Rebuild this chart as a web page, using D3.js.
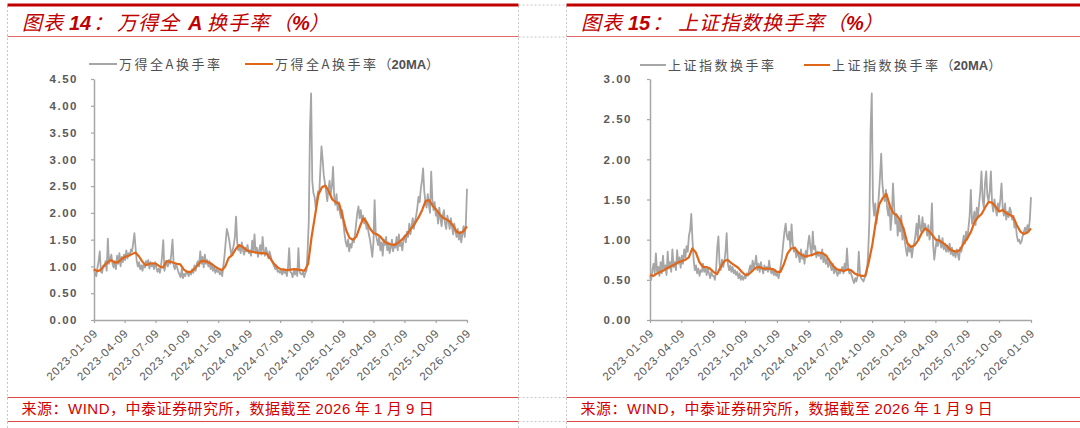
<!DOCTYPE html>
<html>
<head>
<meta charset="utf-8">
<script src="https://cdn.jsdelivr.net/npm/d3@7"></script>
<style>
  body { margin: 0; background: #fff; }
  svg { display: block; }
</style>
</head>
<body>
<div id="chart"></div>
<script>
const WIDTH = 1080, HEIGHT = 428;

// DATA
const START_DATE = "2023-01-09";
const END_DATE = "2026-01-09";
const xTickLabels = ["2023-01-09", "2023-04-09", "2023-07-09", "2023-10-09", "2024-01-09", "2024-04-09", "2024-07-09",
  "2024-10-09", "2025-01-09", "2025-04-09", "2025-07-09", "2025-10-09", "2026-01-09"];
const windYTicks = [0, 0.5, 1, 1.5, 2, 2.5, 3, 3.5, 4, 4.5];
const sseYTicks = [0, 0.5, 1, 1.5, 2, 2.5, 3];

// 万得全A换手率 (evenly spaced through the period)
const windTurnover = [
  0.95,0.86,0.82,0.98,1.10,1.28,0.90,0.88,1.02, 1.00,1.10,0.92,1.52,1.05,1.15,1.22,1.05,0.98,
  1.10,0.95,1.20,1.05,1.25,1.00,1.18,1.08,1.22, 1.12,1.30,1.15,1.25,1.20,1.32,1.28,1.45,1.62,
  1.35,1.10,1.00,1.08,0.95,1.02,0.92,1.05,0.98, 1.10,1.02,1.12,0.96,1.08,1.00,1.05,0.95,1.08,
  0.98,0.90,0.96,0.88,1.00,1.20,1.49,0.92,1.02, 1.08,1.00,1.12,1.05,1.25,1.50,1.02,0.95,1.05,
  0.98,0.90,0.85,0.80,0.95,0.78,0.86,0.82,0.90, 0.88,0.82,0.90,0.85,0.95,0.88,1.02,0.92,1.05,
  1.10,1.00,1.28,1.05,1.18,0.98,1.22,1.05,1.12, 1.00,1.10,0.95,1.05,0.92,0.98,0.88,0.95,0.90,
  0.92,0.85,0.90,0.82,1.00,1.20,1.45,1.70,1.62, 1.50,1.35,1.20,1.30,1.40,1.55,1.93,1.45,1.30,
  1.38,1.25,1.45,1.30,1.22,1.35,1.28,1.40,1.25, 1.30,1.20,1.48,1.28,1.60,1.25,1.35,1.18,1.30,
  1.40,1.22,1.55,1.30,1.20,1.35,1.25,1.15,1.28, 1.20,1.10,1.05,1.00,0.95,1.02,0.90,0.92,0.88,
  0.92,0.85,0.95,0.88,0.90,0.82,0.98,1.34,0.90, 0.88,0.80,0.92,0.85,0.95,0.82,1.34,0.90,0.86,
  0.85,0.90,0.80,0.88,0.92,1.30,1.85,3.55,4.23, 2.60,2.37,2.30,2.10,2.25,2.40,2.35,2.80,3.24,
  3.00,2.70,2.55,2.40,2.22,2.45,2.60,2.35,2.50, 2.86,2.30,2.15,2.35,2.05,2.20,2.00,1.90,2.05,
  1.80,1.60,1.45,1.37,1.50,1.28,1.42,1.35,1.50, 1.45,1.60,1.80,2.00,2.12,1.90,2.05,1.85,1.95,
  1.80,1.90,1.70,1.75,1.60,1.50,1.35,1.18,1.45, 2.24,1.60,1.50,1.40,1.55,1.30,1.45,1.20,1.50,
  1.40,1.55,1.30,1.45,1.25,1.35,1.50,1.28,1.42, 1.35,1.55,1.30,1.60,1.38,1.45,1.30,1.50,1.58,
  1.45,1.65,1.55,1.80,1.60,1.75,1.90,1.70,1.85, 1.95,2.10,2.30,2.20,2.45,2.60,2.83,2.40,2.20,
  2.10,2.35,2.15,2.00,2.77,2.25,2.05,2.20,1.95, 2.00,1.80,2.10,1.90,1.75,1.95,2.05,1.80,1.70,
  1.95,1.85,1.70,1.90,1.75,1.60,1.80,1.65,1.55, 1.70,1.50,1.65,1.45,1.60,1.75,1.55,1.80,2.45
];
// 万得全A换手率（20MA）
const windTurnoverMA = [
  0.95,0.91,0.94, 1.02,1.08,1.12, 1.07,1.08,1.14, 1.18,1.20,1.23, 1.26,1.19,1.09, 1.02,1.05,1.06,
  1.05,1.00,0.98, 1.10,1.09,1.07, 1.05,1.04,0.94, 0.90,0.90,0.95, 1.02,1.10,1.10, 1.08,1.05,1.00,
  0.96,0.93,1.00, 1.16,1.21,1.32, 1.40,1.37,1.31, 1.28,1.27,1.26, 1.25,1.25,1.24, 1.15,1.06,0.99,
  0.95,0.94,0.93, 0.94,0.95,0.94, 0.93,0.92,1.05, 1.55,1.95,2.35, 2.48,2.51,2.40, 2.25,2.20,2.17,
  1.93,1.68,1.53, 1.50,1.56,1.75, 1.90,1.82,1.70, 1.62,1.60,1.55, 1.47,1.43,1.41, 1.40,1.44,1.49,
  1.56,1.63,1.72, 1.81,1.92,2.05, 2.22,2.24,2.14, 2.07,1.98,1.91, 1.88,1.84,1.76, 1.65,1.62,1.66,
  1.75
];

// 上证指数换手率
const sseTurnover = [
  0.55,0.50,0.62,0.70,0.58,0.83,0.60,0.66,0.55, 0.72,0.58,0.80,0.62,0.68,0.56,0.85,0.64,0.72,
  0.60,0.88,0.66,0.72,0.62,0.87,0.70,0.78,0.65, 0.80,0.70,0.88,0.78,0.92,0.85,1.05,1.12,1.32,
  1.00,0.75,0.62,0.68,0.58,0.64,0.55,0.62,0.60, 0.70,0.60,0.66,0.56,0.64,0.58,0.52,0.60,0.55,
  0.55,0.50,0.62,0.90,1.04,0.70,0.62,0.75,0.66, 0.72,0.85,1.08,0.70,0.62,0.68,0.60,0.66,0.58,
  0.62,0.56,0.60,0.52,0.58,0.50,0.55,0.50,0.54, 0.52,0.58,0.55,0.62,0.68,0.60,0.74,0.64,0.70,
  0.80,0.62,0.70,0.60,0.72,0.64,0.58,0.68,0.62, 0.66,0.60,0.74,0.62,0.58,0.64,0.56,0.62,0.55,
  0.58,0.52,0.60,0.70,0.80,0.96,1.10,1.20,1.05, 1.00,1.10,0.90,1.19,0.95,0.85,0.90,0.78,0.85,
  0.80,0.72,0.88,0.76,0.82,0.70,0.86,0.78,0.95, 1.05,0.90,0.80,1.10,0.88,0.92,0.78,0.85,0.80,
  0.82,0.76,0.88,0.72,0.80,0.70,0.76,0.66,0.72, 0.68,0.62,0.70,0.58,0.64,0.60,0.55,0.62,0.58,
  0.62,0.66,0.58,0.70,0.62,0.89,0.64,0.58,0.60, 0.55,0.50,0.46,0.52,0.48,0.55,0.85,0.58,0.52,
  0.50,0.48,0.53,0.55,0.62,0.85,1.25,2.37,2.82, 1.49,1.30,1.45,1.20,1.35,1.55,1.78,2.07,1.70,
  1.55,1.48,1.62,1.40,1.30,1.45,1.12,1.30,1.70, 1.40,1.20,1.32,1.05,1.25,1.10,1.30,1.00,1.15,
  0.98,0.88,0.80,0.95,0.85,0.92,0.78,0.90,0.96, 1.05,1.20,1.00,1.30,1.15,1.10,1.28,1.12,1.20,
  1.15,1.05,1.18,1.00,1.10,1.45,0.95,0.75,0.88, 1.00,0.92,1.05,0.96,0.90,1.02,0.88,0.95,0.85,
  0.92,0.85,0.95,0.82,0.90,0.80,0.86,0.78,0.88, 0.82,0.75,0.90,0.85,0.96,1.05,0.95,1.10,1.00,
  1.15,1.30,1.62,1.20,1.25,1.35,1.18,1.40,1.28, 1.45,1.60,1.85,1.50,1.40,1.70,1.85,1.55,1.48,
  1.60,1.85,1.45,1.35,1.50,1.40,1.30,1.45,1.38, 1.50,1.70,1.40,1.30,1.45,1.25,1.35,1.28,1.40,
  1.35,1.25,1.30,1.15,1.20,1.05,0.98,1.00,0.95, 0.98,1.05,1.10,1.15,1.08,1.18,1.12,1.25,1.53
];
// 上证指数换手率（20MA）
const sseTurnoverMA = [
  0.56,0.55,0.58, 0.60,0.62,0.65, 0.67,0.69,0.72, 0.73,0.75,0.78, 0.89,0.84,0.72, 0.66,0.66,0.64,
  0.60,0.57,0.66, 0.73,0.75,0.71, 0.68,0.65,0.60, 0.56,0.57,0.61, 0.65,0.66,0.64, 0.64,0.64,0.63,
  0.60,0.60,0.70, 0.83,0.89,0.90, 0.84,0.81,0.79, 0.80,0.81,0.83, 0.84,0.83,0.80, 0.73,0.67,0.63,
  0.62,0.61,0.63, 0.62,0.58,0.56, 0.55,0.55,0.72, 0.93,1.22,1.44, 1.52,1.57,1.42, 1.33,1.30,1.24,
  1.12,0.95,0.91, 0.93,0.99,1.08, 1.14,1.11,1.06, 1.00,0.99,0.96, 0.93,0.88,0.86, 0.85,0.88,0.96,
  1.02,1.10,1.22, 1.28,1.32,1.40, 1.47,1.46,1.41, 1.35,1.37,1.33, 1.31,1.28,1.18, 1.10,1.07,1.09,
  1.14
];

const parseDate = d3.timeParse("%Y-%m-%d");
const CJK = "'Noto Sans CJK SC', sans-serif";
const LATIN = "'Liberation Sans', Arial, sans-serif";
const GRAY = "#a6a6a6";
const ORANGE = "#e0661a";

const panels = [
  {
    x0: 7.5, x1: 518.5,
    title: [["图表", 22, "c"], ["14", 69, "l"], ["：", 93, "c"], ["万得全", 117, "c"], ["A", 188, "l"], ["换手率", 207, "c"], ["（", 272, "c"], ["%", 292, "l"], ["）", 309, "c"]],
    left: 94, right: 467, yMax: 4.5, yTicks: windYTicks, pad: 13,
    raw: windTurnover, ma: windTurnoverMA,
    legend: { y: 64, g: [89, 117], gt: 119, o: [245, 273], ot: 275 },
    name: "万得全A换手率"
  },
  {
    x0: 566.5, x1: 1080,
    title: [["图表", 581, "c"], ["15", 628, "l"], ["：", 652, "c"], ["上证指数换手率", 678, "c"], ["（", 826, "c"], ["%", 846, "l"], ["）", 863, "c"]],
    left: 650, right: 1031, yMax: 3, yTicks: sseYTicks, pad: 15,
    raw: sseTurnover, ma: sseTurnoverMA,
    legend: { y: 65, g: [640, 666], gt: 668, o: [804, 830], ot: 832 },
    name: "上证指数换手率"
  }
];

const svg = d3.select("#chart")
  .append("svg")
  .attr("width", WIDTH)
  .attr("height", HEIGHT);

// dotted frame lines between the two panels
const dotted = svg.append("g")
  .attr("stroke", "#c8c8c8")
  .attr("stroke-width", 1)
  .attr("stroke-dasharray", "2,2");
[7.5, 518.5, 566.5].forEach((x) => {
  dotted.append("line").attr("x1", x).attr("x2", x).attr("y1", 6).attr("y2", HEIGHT);
});
[5, 37, 397.5, 421.5].forEach((y) => {
  dotted.append("line").attr("x1", 518.5).attr("x2", 566.5).attr("y1", y).attr("y2", y);
});

// values are listed evenly spaced in time from START_DATE to END_DATE
function toSeries(values) {
  const idx = d3.scaleLinear()
    .domain([0, values.length - 1])
    .range([+parseDate(START_DATE), +parseDate(END_DATE)]);
  return values.map((v, i) => ({ date: new Date(idx(i)), value: v }));
}

panels.forEach((p) => {
  const g = svg.append("g");

  // HEADER
  g.append("line")
    .attr("x1", p.x0).attr("x2", p.x1).attr("y1", 5).attr("y2", 5)
    .attr("stroke", "#c00000").attr("stroke-width", 3);
  g.append("line")
    .attr("x1", p.x0).attr("x2", p.x1).attr("y1", 36.5).attr("y2", 36.5)
    .attr("stroke", "#e06868").attr("stroke-width", 1);

  const title = g.append("text")
    .attr("y", 30)
    .style("font-size", "20px")
    .style("font-style", "italic")
    .style("fill", "#c00000");
  p.title.forEach(([t, x, f]) => {
    title.append("tspan")
      .attr("x", x)
      .style("font-family", f === "c" ? CJK : LATIN)
      .style("font-weight", f === "c" ? "normal" : "bold")
      .style("letter-spacing", f === "c" ? "1px" : "0px")
      .text(t);
  });

  // FOOTER
  g.append("line")
    .attr("x1", p.x0).attr("x2", p.x1).attr("y1", 397.5).attr("y2", 397.5)
    .attr("stroke", "#e04848").attr("stroke-width", 1);
  g.append("line")
    .attr("x1", p.x0).attr("x2", p.x1).attr("y1", 421.5).attr("y2", 421.5)
    .attr("stroke", "#e04848").attr("stroke-width", 1);

  const source = g.append("text")
    .attr("x", p.x0 + 14)
    .attr("y", 414)
    .style("font-size", "15px")
    .style("letter-spacing", "0.5px")
    .style("fill", "#d40000");
  [["来源：", "c"], ["WIND", "l"], ["，中泰证券研究所，数据截至 ", "c"], ["2026", "l"], [" 年 ", "c"],
    ["1", "l"], [" 月 ", "c"], ["9", "l"], [" 日", "c"]].forEach(([t, f]) => {
    source.append("tspan")
      .style("font-family", f === "c" ? CJK : LATIN)
      .text(t);
  });

  // SCALES
  const x = d3.scaleTime()
    .domain([parseDate(START_DATE), parseDate(END_DATE)])
    .range([p.left, p.right]);
  const y = d3.scaleLinear()
    .domain([0, p.yMax])
    .range([320, 79]);

  // AXIS
  const yAxis = g.append("g")
    .attr("transform", `translate(${p.left}, 0)`)
    .call(d3.axisLeft(y).tickValues(p.yTicks).tickFormat(d3.format(".2f")).tickSize(3).tickSizeOuter(0).tickPadding(p.pad));
  const xAxis = g.append("g")
    .attr("transform", "translate(0, 320)")
    .call(d3.axisBottom(x).tickValues(xTickLabels.map(parseDate)).tickFormat(d3.timeFormat("%Y-%m-%d")).tickSize(3).tickSizeOuter(0));

  [yAxis, xAxis].forEach((a) => {
    a.select(".domain").attr("stroke", "#a6a6a6").attr("stroke-width", 1.5);
    a.selectAll(".tick line").attr("stroke", "#a6a6a6").attr("stroke-width", 1.2);
  });
  yAxis.selectAll(".tick text")
    .style("font-family", LATIN)
    .style("font-size", "11.5px")
    .style("font-weight", "bold")
    .style("letter-spacing", "1.5px")
    .style("fill", "#595959");
  xAxis.selectAll(".tick text")
    .attr("y", null)
    .attr("dy", null)
    .attr("text-anchor", "end")
    .attr("transform", "translate(4, 14) rotate(-45)")
    .style("font-family", LATIN)
    .style("font-size", "11.5px")
    .style("letter-spacing", "0.8px")
    .style("fill", "#595959");

  // LINES
  const line = d3.line()
    .x((d) => x(d.date))
    .y((d) => y(d.value));

  g.append("path")
    .datum(toSeries(p.raw))
    .attr("fill", "none")
    .attr("stroke", GRAY)
    .attr("stroke-width", 1.8)
    .attr("stroke-linejoin", "round")
    .attr("d", line);

  g.append("path")
    .datum(toSeries(p.ma))
    .attr("fill", "none")
    .attr("stroke", ORANGE)
    .attr("stroke-width", 2.2)
    .attr("stroke-linejoin", "round")
    .attr("d", line);

  // LEGEND
  const L = p.legend;
  g.append("line")
    .attr("x1", L.g[0]).attr("x2", L.g[1]).attr("y1", L.y).attr("y2", L.y)
    .attr("stroke", GRAY).attr("stroke-width", 2);
  g.append("line")
    .attr("x1", L.o[0]).attr("x2", L.o[1]).attr("y1", L.y).attr("y2", L.y)
    .attr("stroke", ORANGE).attr("stroke-width", 2);

  const legendText = (xPos, parts) => {
    const t = g.append("text")
      .attr("x", xPos)
      .attr("y", L.y + 4.5)
      .style("font-family", CJK)
      .style("font-size", "13px")
      .style("fill", "#505050");
    parts.forEach(([s, ls, w]) => {
      t.append("tspan")
        .style("letter-spacing", ls + "px")
        .style("font-weight", w || "normal")
        .style("font-family", w ? LATIN : CJK)
        .text(s);
    });
  };
  legendText(L.gt, [[p.name, 2.5]]);
  legendText(L.ot, [[p.name, 2.5], ["（", 0], ["20MA", 0, "bold"], ["）", 0]]);
});
</script>
</body>
</html>
